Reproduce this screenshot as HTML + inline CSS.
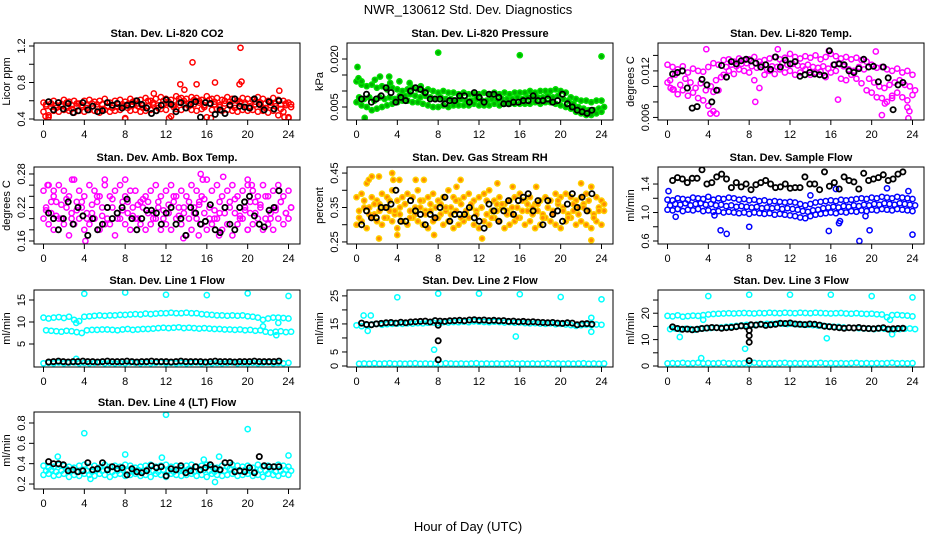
<!DOCTYPE html>
<html><head><meta charset="utf-8">
<style>
html,body{margin:0;padding:0;background:#fff;}
svg{display:block;font-family:"Liberation Sans",sans-serif;}
</style></head>
<body>
<svg id="chart" width="936" height="540" viewBox="0 0 936 540">
<rect width="936" height="540" fill="#fff"/>
<text x="468" y="14" font-size="13" text-anchor="middle">NWR_130612  Std. Dev. Diagnostics</text>
<text x="468" y="531" font-size="13" text-anchor="middle">Hour of Day (UTC)</text>
</svg>
<script>
// ---- data ----
const xTicks = [0,4,8,12,16,20,24];
const titles = ["Stan. Dev. Li-820 CO2","Stan. Dev. Li-820 Pressure","Stan. Dev. Li-820 Temp.","Stan. Dev. Amb. Box Temp.","Stan. Dev. Gas Stream RH","Stan. Dev. Sample Flow","Stan. Dev. Line 1 Flow","Stan. Dev. Line 2 Flow","Stan. Dev. Line 3 Flow","Stan. Dev. Line 4 (LT) Flow"];
const yTitles = ["Licor ppm","kPa","degrees C","degrees C","percent","ml/min","ml/min","ml/min","ml/min","ml/min"];

const co2A=[.58,.59,.60,.58,.61,.59,.60,.57,.60,.61,.59,.60,.62,.58,.60,.61,.59,.62,.60,.61,.63,.60,.62,.64,.62,.61,.65,.63,.62,.64,.63,.61,.65,.62,.63,.61,.64,.62,.60,.63,.62,.61,.64,.62,.60,.63,.61,.60,.58];
const co2B=[.54,.53,.55,.54,.52,.55,.54,.53,.55,.54,.53,.56,.54,.55,.53,.54,.56,.55,.54,.55,.54,.56,.55,.56,.57,.55,.58,.56,.57,.56,.58,.55,.57,.56,.55,.57,.56,.55,.57,.56,.54,.56,.55,.57,.55,.54,.56,.55,.53];
const co2C=[.48,.44,.49,.48,.50,.49,.47,.49,.48,.50,.49,.47,.50,.48,.49,.50,.41,.49,.50,.48,.49,.50,.49,.51,.50,.43,.51,.50,.52,.50,.49,.51,.42,.50,.51,.49,.50,.49,.48,.50,.49,.50,.48,.49,.47,.49,.44,.48,.42];
const co2D=[.56,.57,.52,.56,.58,.51,.57,.55,.52,.57,.56,.51,.58,.52,.57,.56,.52,.59,.57,.52,.60,.58,.52,.60,.59,.53,.62,.60,.54,.61,.60,.53,.61,.59,.53,.60,.59,.52,.59,.58,.52,.59,.58,.52,.58,.57,.51,.57,.56];
const co2Out=[[13.4,.78],[14.6,1.02],[15,.78],[16.8,.80],[19.2,.78],[19.4,.81],[19.3,1.18],[13.8,.72],[10.8,.68],[23.1,.71],[12.3,.41],[8,.40],[0.2,.43],[0.5,.42],[16.4,.41],[24,.41],[23.6,.42]];
const co2K=[.59,.50,.58,.51,.57,.47,.49,.58,.50,.54,.48,.49,.58,.55,.57,.52,.55,.56,.60,.56,.52,.46,.49,.55,.61,.56,.48,.58,.52,.56,.59,.42,.58,.57,.45,.50,.46,.55,.62,.54,.53,.52,.62,.56,.50,.59,.51,.60];

const prA=[13,12,11.5,12,11,11.5,10.5,11,10.5,10,10.5,11,10.5,10,10.5,10,9.5,10,9.5,9.5,9,9.5,9,9,9,9.5,9,9.5,9,9.5,9,9.5,9.5,9.5,10,9.5,10,10,10,10.5,10,9.5,8,7.5,7,7,6.5,7,7];
const prB=[8,7.5,8,7,8,7.5,8,7.5,8.5,8.5,9,8.5,8,8.5,8,7.5,8,7.5,7.5,7,7.5,7,7,7.5,7,7,7.5,7,7.5,7.5,7.5,8,7.5,8,8,8,8,8.5,8,8.5,7.5,7,6,5,4.5,4,4,4.5,5];
const prC=[6.5,5.5,5,4,4.5,5,5.5,6,6.5,7,7,6.5,6.5,6,5.5,5,5,5.5,5,5.5,5.5,5.5,5.5,6,5.5,5.5,5.5,6,5.5,6,6,6,6,6,6,6.5,6,6.5,6.5,6,5.5,5,4.5,3.5,3,2.5,2.5,3,3.5];
const prOut=[[8,22],[16,21.2],[24,20.8],[0.2,14],[0.5,13],[1.8,13.5],[2.3,14.5],[3.2,14.5],[3.3,12.5],[4.2,13],[5.2,12.5],[6.3,11.5],[0.8,1.6],[0.1,17.5]];
const prK=[7.5,9,6.5,7.5,8.5,11,9.5,6.5,8,7,10,11,10.5,9.5,7.5,7.5,7.5,6,7,7,8.5,8.5,6.5,9.5,8,6.5,9,9,8,6,6,6.5,6.5,7,7,8.5,7,7,7.5,6.5,7,9,6,5,4,3.5,3,4];

const tpA=[12.8,12.5,12.2,12.6,11.8,12.3,12,11.9,12.5,13,12.8,13.4,13.5,13.2,13.6,13.4,13.5,13.8,13.2,13.4,13.6,13.8,13.5,13.7,14.2,13.8,13.6,13.9,13.7,14,13.5,13.8,14.2,13.9,13.6,13.8,13.5,13.7,13.4,13.2,12.8,12.4,12.5,12.2,12,12.3,11.8,12,11.5];
const tpB=[10.8,11.5,10.2,11,10.5,9.8,10.4,9.5,10,10.8,11.2,12.5,12.8,12.6,12.9,13,12.6,12.4,12.8,12.2,12.6,12.5,13,12.8,12.9,12.7,12.6,12.8,12.5,12.4,12.6,12.3,12.8,13,12.6,12.2,12,12.5,12.2,11,10.5,10,9.8,10.2,10.5,10.8,10.2,10,9.5];
const tpC=[10.5,9.6,9,9.5,8.8,9.2,8.5,8.2,7.5,9.3,9.5,11.5,12,11.6,12.2,12,11.8,10.8,9.8,11.5,12,11.6,12.2,11.8,12,11.5,11.8,12.2,11.5,11.8,11.9,11.2,11.8,12,11,10.8,11.5,11,10.4,9.5,9.2,8.6,8.5,8,8.8,9.2,8.6,8.2,8.9];
const tpOut=[[3.8,14.8],[4.2,6.5],[4.5,6.8],[4.8,6.5],[8.6,8],[10.8,14.8],[15.8,14.6],[20.4,14.5],[16.7,8.3],[21,6.3],[23.5,7.3],[23.6,5.9],[21.3,7.8],[22,8.5],[23.7,6.8],[0.3,9.8],[0.6,9.6]];
const tpK=[11.6,11.8,12,9.8,7.2,7.4,10.9,10.2,8,9.5,12.7,11.2,13.2,12.9,13.3,13.5,13.3,13,12.5,12.8,12.2,13.8,12.5,13.4,12.9,13.2,11.3,11.5,11.8,11.6,11.5,11.4,14.6,12.8,12.9,12.8,12,11.8,12.3,13.5,12.5,12.6,10.6,12.5,11.1,7,10.2,10.5];

const abA=[.25,.26,.24,.26,.25,.24,.27,.25,.24,.26,.25,.24,.26,.24,.25,.26,.24,.25,.25,.23,.24,.25,.26,.24,.25,.26,.24,.25,.24,.26,.25,.24,.27,.25,.26,.24,.25,.26,.24,.25,.27,.25,.24,.26,.24,.25,.26,.24,.25];
const abB=[.22,.21,.23,.20,.22,.21,.23,.22,.20,.21,.23,.22,.20,.22,.21,.23,.21,.22,.20,.22,.23,.21,.22,.20,.21,.23,.22,.21,.20,.22,.23,.21,.22,.20,.21,.22,.23,.21,.20,.22,.21,.23,.22,.20,.21,.22,.23,.21,.22];
const abC=[.20,.19,.18,.20,.19,.17,.19,.20,.18,.19,.20,.18,.19,.19,.17,.20,.19,.18,.20,.19,.18,.19,.20,.18,.19,.18,.20,.19,.17,.18,.20,.19,.18,.19,.20,.18,.19,.17,.19,.20,.18,.19,.20,.18,.19,.18,.20,.19,.20];
const abD=[.215,.23,.205,.225,.235,.2,.215,.23,.21,.225,.24,.205,.22,.235,.2,.215,.23,.205,.225,.235,.21,.2,.23,.215,.225,.24,.205,.22,.23,.21,.225,.235,.2,.215,.23,.21,.22,.235,.205,.215,.23,.21,.225,.24,.2,.215,.23,.21,.22];
const abOut=[[1,.25],[0.4,.26],[2.8,.27],[6,.27],[8,.27],[15.4,.28],[15.6,.27],[17.6,.275],[20,.26],[20.4,.26],[4.1,.16],[13.7,.165],[15.2,.17],[17.2,.17],[20,.18]];
const abK=[.21,.20,.18,.20,.23,.19,.22,.205,.17,.20,.18,.19,.22,.20,.21,.22,.235,.20,.18,.20,.215,.215,.21,.19,.21,.22,.19,.20,.17,.22,.21,.19,.195,.225,.18,.175,.22,.19,.18,.22,.23,.24,.205,.19,.185,.215,.22,.25];

const rhA=[.38,.39,.42,.38,.37,.39,.38,.40,.37,.38,.39,.38,.40,.37,.38,.39,.37,.38,.40,.38,.37,.38,.39,.37,.38,.39,.40,.37,.38,.36,.37,.38,.39,.37,.38,.36,.37,.38,.37,.39,.38,.39,.38,.37,.38,.39,.41,.38,.37];
const rhB=[.34,.35,.33,.36,.34,.35,.34,.33,.35,.36,.34,.33,.35,.34,.36,.35,.33,.34,.35,.34,.36,.33,.35,.34,.35,.33,.34,.36,.35,.34,.33,.35,.34,.36,.35,.34,.33,.35,.34,.36,.35,.33,.34,.35,.36,.34,.33,.35,.34];
const rhC=[.30,.31,.29,.32,.31,.30,.32,.31,.29,.31,.30,.32,.31,.30,.29,.31,.32,.30,.31,.29,.30,.31,.32,.30,.29,.31,.30,.32,.31,.29,.30,.31,.32,.30,.31,.29,.30,.32,.31,.30,.29,.31,.32,.30,.31,.30,.29,.31,.30];
const rhD=[.32,.37,.35,.33,.36,.32,.37,.34,.33,.36,.32,.35,.37,.33,.34,.32,.36,.35,.33,.37,.32,.34,.36,.33,.35,.37,.32,.34,.36,.33,.35,.32,.37,.34,.33,.36,.32,.35,.33,.37,.34,.32,.36,.33,.35,.37,.32,.34,.36];
const rhOut=[[1.2,.43],[1.5,.44],[2.2,.44],[3.5,.45],[3.6,.43],[4.2,.43],[5.8,.43],[6.6,.43],[10.2,.43],[13.8,.42],[15.3,.41],[17.6,.41],[22,.42],[23,.41],[2.2,.26],[4,.27],[7.6,.27],[12.3,.26],[23,.255],[9.8,.41]];
const rhK=[.30,.34,.32,.32,.35,.35,.36,.40,.31,.31,.37,.34,.33,.30,.33,.32,.35,.38,.31,.33,.33,.33,.35,.32,.31,.29,.36,.34,.31,.34,.37,.33,.37,.38,.39,.34,.37,.30,.37,.33,.34,.31,.36,.39,.35,.38,.34,.39];

const sfA=[1.18,1.17,1.2,1.19,1.18,1.21,1.2,1.19,1.22,1.18,1.2,1.19,1.21,1.2,1.18,1.19,1.17,1.18,1.16,1.17,1.15,1.16,1.15,1.14,1.15,1.14,1.12,1.1,1.12,1.14,1.15,1.16,1.17,1.16,1.18,1.17,1.18,1.19,1.2,1.19,1.21,1.2,1.22,1.21,1.2,1.22,1.21,1.2,1.19];
const sfB=[1.1,1.12,1.11,1.13,1.1,1.12,1.13,1.11,1.12,1.1,1.11,1.09,1.1,1.08,1.09,1.08,1.07,1.08,1.06,1.07,1.06,1.07,1.05,1.06,1.05,1.04,1.02,1.01,1.03,1.04,1.06,1.07,1.08,1.07,1.09,1.08,1.1,1.09,1.11,1.1,1.12,1.11,1.13,1.12,1.11,1.13,1.12,1.11,1.1];
const sfC=[1.04,1.03,1.05,1.02,1.04,1.03,1.05,1.02,1.03,1.01,1.02,1.0,1.01,1.0,.99,1.0,.98,1.0,.99,.98,.99,.97,.98,.97,.96,.95,.93,.92,.95,.97,.98,.99,1.0,.99,1.01,1.0,1.02,1.01,1.03,1.02,1.04,1.03,1.05,1.04,1.03,1.05,1.04,1.03,1.02];
const sfOut=[[5.2,.75],[5.8,.7],[8,.8],[15.8,.74],[16.8,.85],[19.8,.75],[18.8,.6],[24,.69],[16.5,1.33],[21.5,1.34],[0.1,1.3],[23.6,1.3],[14,1.24],[0.8,.94],[4.6,.96],[16.9,.88],[19.4,.95]];
const sfK=[1.45,1.49,1.47,1.42,1.48,1.48,1.6,1.4,1.42,1.5,1.54,1.47,1.35,1.42,1.36,1.4,1.32,1.39,1.42,1.45,1.4,1.35,1.36,1.4,1.34,1.35,1.35,1.5,1.4,1.4,1.32,1.57,1.37,1.42,1.33,1.5,1.45,1.43,1.33,1.55,1.45,1.47,1.49,1.53,1.45,1.47,1.54,1.57];

const l1A=[11,10.8,11,11.1,10.9,11.2,10.5,10.2,11.2,11.3,11.4,11.5,11.4,11.5,11.5,11.6,11.6,11.7,11.8,11.7,11.9,11.8,11.9,12,12,12.1,12,12,12.1,12,12,11.8,11.7,11.6,11.5,11.5,11.4,11.5,11.4,11.5,11.3,11.2,11,10.5,10.8,11,11,10.9,10.8];
const l1B=[8.1,8,7.9,7.8,8,7.9,7.7,7.5,8.1,8.2,8.2,8.3,8.3,8.2,8.1,8.3,8.4,8.2,8.3,8.4,8.4,8.5,8.6,8.7,8.6,8.7,8.8,8.6,8.7,8.6,8.5,8.6,8.5,8.4,8.4,8.3,8.3,8.2,8.3,8.1,8.2,8,8.1,7.8,7.6,7.8,7.9,7.7,7.8];
const l1C=[.6,.7,.6,.8,.6,.7,.8,.6,.7,.6,.7,.8,.6,.7,.6,.7,.6,.8,.7,.6,.7,.6,.7,.8,.6,.7,.6,.7,.6,.7,.8,.6,.7,.6,.7,.6,.7,.8,.6,.7,.6,.7,.6,.7,.8,.6,.7,.6,.7];
const l1Out=[[4,16.4],[8,16.7],[12,16.2],[16,16.1],[20,16.5],[24,15.9],[3.2,9.8],[21.5,9],[22.8,7],[23,9.8],[3.2,1.6]];
const l1K=[.9,1,1.1,1,.9,1,1,1.1,1,1,.9,1,1.1,1,1,1,1.1,1,.9,1,1,1.1,1,1,1,.9,1,1.1,1,1,1,1,.9,1,1.1,1,1,1,.9,1,1,1,1.1,1,1,1,1,1.1];

const l2A=[14.5,14.2,14.6,14.8,15,14.7,14.9,15,15.1,15,15.2,15.1,15.3,15.2,15.4,15.5,15.3,15.6,15.5,15.7,15.6,15.8,15.6,15.9,15.8,15.7,15.6,15.8,15.7,15.5,15.6,15.4,15.5,15.3,15.2,15.3,15.1,15,15.2,14.9,15,14.8,14.6,14.3,14.5,14.7,14.6,14.8,14.7];
const l2C=[.8,.9,.8,1,.8,.9,1,.8,.9,.8,.9,1,.8,.9,.8,.9,.8,1,.9,.8,.9,.8,.9,1,.8,.9,.8,.9,.8,.9,1,.8,.9,.8,.9,.8,.9,1,.8,.9,.8,.9,.8,.9,1,.8,.9,.8,.9];
const l2Out=[[4,24.5],[8,25.8],[12,25.8],[16,25.6],[20,24.6],[24,23.8],[0.7,18],[1.4,18],[1.1,12.5],[7.6,5.8],[15.6,10.5],[23,17.2],[23,12.2]];
const l2K=[15.3,14.8,14.7,15,15.2,15.4,15.5,15.3,15.6,15.4,15.7,15.8,15.9,16,15.7,16.2,16,15.9,16.1,16.2,16.3,16.1,16.4,16.5,16.3,16.4,16.2,16.3,16.1,16.2,15.9,16,15.8,15.9,15.7,15.8,15.6,15.5,15.4,15.5,15.3,15.2,15.4,15.3,14.7,15,15.1,14.9];
const l2KOut=[[8,9],[8,2.2],[8,14.5]];

const l3A=[19,18.8,19.2,18.7,18.9,19.1,19,19.3,19.5,19.7,19.8,19.9,20,19.9,20,20.1,20,19.9,20.1,20,20.2,20.1,20,20.2,20.1,20,20.2,20.1,20,20.2,20.1,20,19.9,20,20.1,19.9,19.8,20,19.8,19.7,19.8,19.6,19.5,18.5,19.3,19.4,19.2,19.1,18.8];
const l3B=[14,14.2,13.9,14.1,14,13.8,14.2,14.3,14.4,14.5,14.6,14.8,15,15.2,15.4,15.6,15.5,15.7,15.8,16,15.9,16.1,16,15.9,16,15.8,15.7,15.6,15.5,15.3,15.2,15,14.9,14.8,14.6,14.5,14.4,14.3,14.2,14.1,14,14.2,14.1,13.9,13.8,14,14.1,14.2,14];
const l3C=[1,1.1,1,1.2,1,1.1,1.2,1,1.1,1,1.1,1.2,1,1.1,1,1.1,1,1.2,1.1,1,1.1,1,1.1,1.2,1,1.1,1,1.1,1,1.1,1.2,1,1.1,1,1.1,1,1.1,1.2,1,1.1,1,1.1,1,1.1,1.2,1,1.1,1,1.1];
const l3Out=[[4,26.5],[8,27],[12,27],[16,27],[20,26.5],[24,26],[1.2,11],[3.3,3],[7.6,6.5],[15.6,10.5],[22,12],[21.8,17.5],[3.5,17.5]];
const l3K=[14.8,14.2,13.9,14,13.7,13.9,14.2,14.4,14.6,14.5,14.3,14.5,14.6,14.9,15.2,15,15.6,15.5,15.8,15.4,15.6,15.8,16.2,16.1,16.3,15.9,15.8,15.7,15.9,15.8,15.5,15.1,14.9,14.7,14.5,14.3,14.5,14.4,14.6,14.3,14.2,14.1,14.3,14.5,14,14.1,14.2,14.3];
const l3KOut=[[8,2],[8,9],[8,11.5],[8,13.5]];

const l4A=[.38,.36,.37,.39,.38,.37,.36,.38,.39,.37,.38,.36,.39,.37,.38,.37,.39,.38,.36,.37,.38,.39,.37,.38,.39,.37,.38,.36,.38,.39,.37,.38,.39,.37,.36,.38,.37,.39,.38,.37,.38,.36,.39,.37,.38,.37,.39,.38,.37];
const l4B=[.33,.34,.32,.33,.35,.33,.32,.34,.33,.32,.34,.33,.35,.32,.33,.34,.33,.32,.34,.33,.35,.33,.32,.34,.33,.32,.34,.33,.35,.32,.33,.34,.33,.32,.34,.33,.35,.33,.32,.34,.33,.32,.34,.33,.35,.32,.33,.34,.33];
const l4C=[.29,.30,.28,.29,.30,.27,.29,.28,.30,.29,.28,.30,.29,.27,.29,.30,.28,.29,.30,.28,.29,.27,.30,.29,.28,.30,.29,.28,.29,.30,.28,.29,.27,.30,.29,.28,.29,.30,.28,.29,.30,.28,.29,.27,.30,.29,.28,.30,.29];
const l4Out=[[4,.7],[12,.88],[20,.74],[1.4,.47],[17.2,.47],[8,.49],[24,.48],[4.6,.25],[16.8,.22],[12,.27],[11.6,.46],[15.7,.44]];
const l4K=[.42,.40,.40,.39,.33,.34,.32,.33,.41,.34,.35,.41,.34,.37,.35,.36,.29,.35,.32,.31,.33,.38,.36,.37,.28,.35,.34,.38,.31,.33,.37,.34,.36,.39,.35,.34,.41,.41,.32,.33,.32,.36,.31,.47,.38,.37,.37,.37];

// ---- layout ----
const colLeft=[34,347,658], rowTop=[43,167,290,412], W=266, H=77;
const SVGNS="http://www.w3.org/2000/svg";
const svg=document.getElementById('chart');
function mk(tag,attrs,parent){const e=document.createElementNS(SVGNS,tag);for(const k in attrs)e.setAttribute(k,attrs[k]);(parent||svg).appendChild(e);return e;}

const panels=[
 {ylim:[0.389,1.233],ticks:[0.4,0.6,0.8,1.0,1.2],labels:["0.4","","0.8","","1.2"],col:"#ff0000",fill:"none",series:[co2A,co2B,co2C,co2D],out:co2Out,black:co2K},
 {ylim:[0.94,25.0],ticks:[5,10,15,20],labels:["0.005","","","0.020"],col:"#00e000",fill:"#00b000",series:[prA,prB,prC],out:prOut,black:prK},
 {ylim:[5.67,15.6],ticks:[6,8,10,12,14],labels:["0.006","","","0.012",""],col:"#ff00ff",fill:"none",series:[tpA,tpB,tpC],out:tpOut,black:tpK},
 {ylim:[0.1546,0.2925],ticks:[0.16,0.18,0.20,0.22,0.24,0.26,0.28],labels:["0.16","","","0.22","","","0.28"],col:"#ff00ff",fill:"none",series:[abA,abB,abC,abD],out:abOut,black:abK},
 {ylim:[0.244,0.4676],ticks:[0.25,0.30,0.35,0.40,0.45],labels:["0.25","","0.35","","0.45"],col:"#ffd000",fill:"#ff8c00",series:[rhA,rhB,rhC,rhD],out:rhOut,black:rhK},
 {ylim:[0.558,1.639],ticks:[0.6,0.8,1.0,1.2,1.4],labels:["0.6","","1.0","","1.4"],col:"#0000ff",fill:"none",series:[sfA,sfB,sfC],out:sfOut,black:sfK},
 {ylim:[-0.23,17.27],ticks:[5,10,15],labels:["5","10","15"],col:"#00ffff",fill:"none",series:[l1A,l1B,l1C],out:l1Out,black:l1K},
 {ylim:[-0.36,27.1],ticks:[0,5,10,15,20,25],labels:["0","5","","15","","25"],col:"#00ffff",fill:"none",series:[l2A,l2C],out:l2Out,black:l2K,blackOut:l2KOut},
 {ylim:[-0.38,28.8],ticks:[0,5,10,15,20,25],labels:["0","","10","","20",""],col:"#00ffff",fill:"none",series:[l3A,l3B,l3C],out:l3Out,black:l3K,blackOut:l3KOut},
 {ylim:[0.151,0.908],ticks:[0.2,0.4,0.6,0.8],labels:["0.2","0.4","0.6","0.8"],col:"#00ffff",fill:"none",series:[l4A,l4B,l4C],out:l4Out,black:l4K}
];

panels.forEach((p,i)=>{
  const L=colLeft[i%3], T=rowTop[Math.floor(i/3)], B=T+H;
  const g=mk('g',{});
  
  
  const xs=h=>L+9.5+h/24*245;
  const ys=v=>B-(v-p.ylim[0])/(p.ylim[1]-p.ylim[0])*H;
  const clip=mk('clipPath',{id:'c'+i},g);
  mk('rect',{x:L,y:T,width:W,height:H},clip);
  const pts=mk('g',{'clip-path':'url(#c'+i+')'},g);
  
  
  const dot=(h,v,stroke,fill,sw,name)=>{
    const c=mk('circle',{cx:xs(h).toFixed(1),cy:ys(v).toFixed(1),r:2.6,fill:fill,stroke:stroke,'stroke-width':sw},pts);
    
    
  };
  p.series.forEach((arr,s)=>arr.forEach((v,k)=>dot(k*0.5+(s%2)*0.25,v,p.col,p.fill,1.5,'color-point')));
  p.out.forEach(o=>dot(o[0],o[1],p.col,p.fill,1.5,'outlier-point'));
  p.black.forEach((v,k)=>dot(0.5+k*0.48,v,'#000','none',1.8,'black-point'));
  (p.blackOut||[]).forEach(o=>dot(o[0],o[1],'#000','none',1.8,'black-point'));
  const box=mk('rect',{x:L,y:T,width:W,height:H,fill:'none',stroke:'#000','stroke-width':1},g);
  
  
  const t=mk('text',{x:L+W/2,y:T-6,'font-size':11,'font-weight':'bold','text-anchor':'middle'},g);
  t.textContent=titles[i];
  
  
  xTicks.forEach(h=>{
    const x=xs(h);
    mk('line',{x1:x,x2:x,y1:B,y2:B+5,stroke:'#000'},g);
    const tl=mk('text',{x:x,y:B+18,'font-size':11,'text-anchor':'middle'},g);
    tl.textContent=h;
    
    
  });
  p.ticks.forEach((v,k)=>{
    const y=ys(v);
    mk('line',{x1:L-5,x2:L,y1:y,y2:y,stroke:'#000'},g);
    if(p.labels[k]){
      const yl=mk('text',{x:0,y:0,'font-size':11,'text-anchor':'middle',transform:`translate(${L-9},${y}) rotate(-90)`},g);
      yl.textContent=p.labels[k];
      
      
    }
  });
  const yt=mk('text',{x:0,y:0,'font-size':11,'text-anchor':'middle',transform:`translate(${L-24},${T+H/2}) rotate(-90)`},g);
  yt.textContent=yTitles[i];
  
  
});
</script>
</body></html>
